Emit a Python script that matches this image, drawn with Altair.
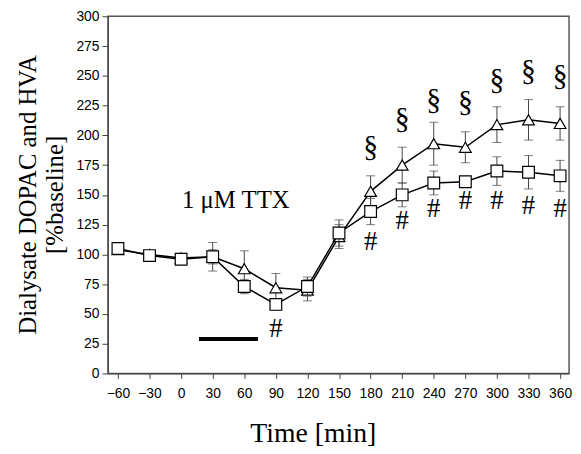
import altair as alt
import pandas as pd

times = [-60, -30, 0, 30, 60, 90, 120, 150, 180, 210, 240, 270, 300, 330, 360]
sq_mean = [105, 99, 96, 98, 73, 58, 73, 118, 136, 150, 160, 161, 170, 169, 166]
sq_err = [4, 2, 4, 6, 6, 5, 8, 11, 11, 10, 10, 2, 12, 14, 13]
tri_mean = [104, 100, 97, 98, 88, 72, 70, 115, 153, 175, 193, 190, 209, 213, 210]
tri_err = [3, 2, 3, 12, 15, 12, 9, 10, 13, 15, 18, 13, 15, 17, 14]

sect_x = [180, 210, 240, 270, 300, 330, 360]
sect_y = [190, 214, 230, 228, 246, 254, 250]
hash_x = [90, 180, 210, 240, 270, 300, 330, 360]
hash_y = [37, 110, 128, 138, 145, 145, 141, 138]

ttx_label = "1 \u03bcM TTX"
ttx_pos = [52, 146]
bar_x = [17, 73]
bar_y = 29

y_ticks = list(range(0, 301, 25))

sq = pd.DataFrame({"t": times, "m": sq_mean, "lo": [m - e for m, e in zip(sq_mean, sq_err)],
                   "hi": [m + e for m, e in zip(sq_mean, sq_err)]})
tri = pd.DataFrame({"t": times, "m": tri_mean, "lo": [m - e for m, e in zip(tri_mean, tri_err)],
                    "hi": [m + e for m, e in zip(tri_mean, tri_err)]})

xs = alt.Scale(domain=[-69.5, 368.5], nice=False, zero=False)
ys = alt.Scale(domain=[0, 300], nice=False)
x_title = "Time [min]"
y_title = ["Dialysate DOPAC and HVA", "[%baseline]"]

x_axis = alt.Axis(values=times, labelOverlap=False, labelFlush=False,
                  titleFont="Liberation Serif", titleFontSize=28,
                  titleFontWeight="normal", titleColor="black", titleX=207, titleY=47,
                  titleBaseline="top", titleAnchor="start", titleAlign="center")
y_axis = alt.Axis(values=y_ticks, labelOverlap=False, labelFlush=False,
                  titleFont="Liberation Serif", titleFontSize=25,
                  titleFontWeight="normal", titleColor="black", titleX=-68, titleY=180,
                  titleAngle=-90, titleBaseline="bottom", titleAlign="center",
                  titleLineHeight=27)


def X(field):
    return alt.X(field, scale=xs, axis=x_axis, title=x_title)


def Y(field):
    return alt.Y(field, scale=ys, axis=y_axis, title=y_title)


def series(df, shape):
    base = alt.Chart(df)
    line = base.mark_line(color="black", strokeWidth=1.5).encode(x=X("t:Q"), y=Y("m:Q"))
    rule = base.mark_rule(color="#444", strokeWidth=1).encode(x=X("t:Q"), y=Y("lo:Q"), y2="hi:Q")
    cap_lo = base.mark_tick(color="#444", orient="horizontal", size=9, thickness=1).encode(
        x=X("t:Q"), y=Y("lo:Q"))
    cap_hi = base.mark_tick(color="#444", orient="horizontal", size=9, thickness=1).encode(
        x=X("t:Q"), y=Y("hi:Q"))
    pts = base.mark_point(shape=shape, filled=True, fill="white", stroke="black", strokeWidth=1.2,
                          size=140, opacity=1).encode(x=X("t:Q"), y=Y("m:Q"))
    return [line, rule, cap_lo, cap_hi, pts]


sect_df = pd.DataFrame({"t": sect_x, "v": sect_y})
hash_df = pd.DataFrame({"t": hash_x, "v": hash_y})
sect = alt.Chart(sect_df).mark_text(text="\u00a7", font="Liberation Serif", fontSize=30, color="black").encode(
    x=X("t:Q"), y=Y("v:Q"))
hashes = alt.Chart(hash_df).mark_text(text="#", font="Liberation Serif", fontSize=27, color="black").encode(
    x=X("t:Q"), y=Y("v:Q"))
ttx = alt.Chart(pd.DataFrame({"t": [ttx_pos[0]], "v": [ttx_pos[1]]})).mark_text(
    text=ttx_label, font="Liberation Serif", fontSize=25, color="black").encode(x=X("t:Q"), y=Y("v:Q"))
bar = alt.Chart(pd.DataFrame({"a": [bar_x[0]], "b": [bar_x[1]], "v": [bar_y]})).mark_rule(
    color="black", strokeWidth=4).encode(x=X("a:Q"), x2="b:Q", y=Y("v:Q"))

layers = series(tri, "triangle-up") + series(sq, "square") + [sect, hashes, ttx, bar]

chart = alt.layer(*layers).properties(
    width=466, height=361,
    autosize=alt.AutoSizeParams(type="none"),
    padding={"left": 101, "top": 6, "right": 4, "bottom": 79},
).configure_view(stroke="#555", strokeWidth=1.5).configure_axis(
    grid=False, labelFont="Liberation Sans", labelFontSize=14, labelColor="black",
    tickColor="#444", domainColor="#444", tickSize=6, labelPadding=3,
).configure_axisX(tickSize=5, labelPadding=8)

chart.save("out.html", embed_options={"renderer": "svg", "actions": False})
